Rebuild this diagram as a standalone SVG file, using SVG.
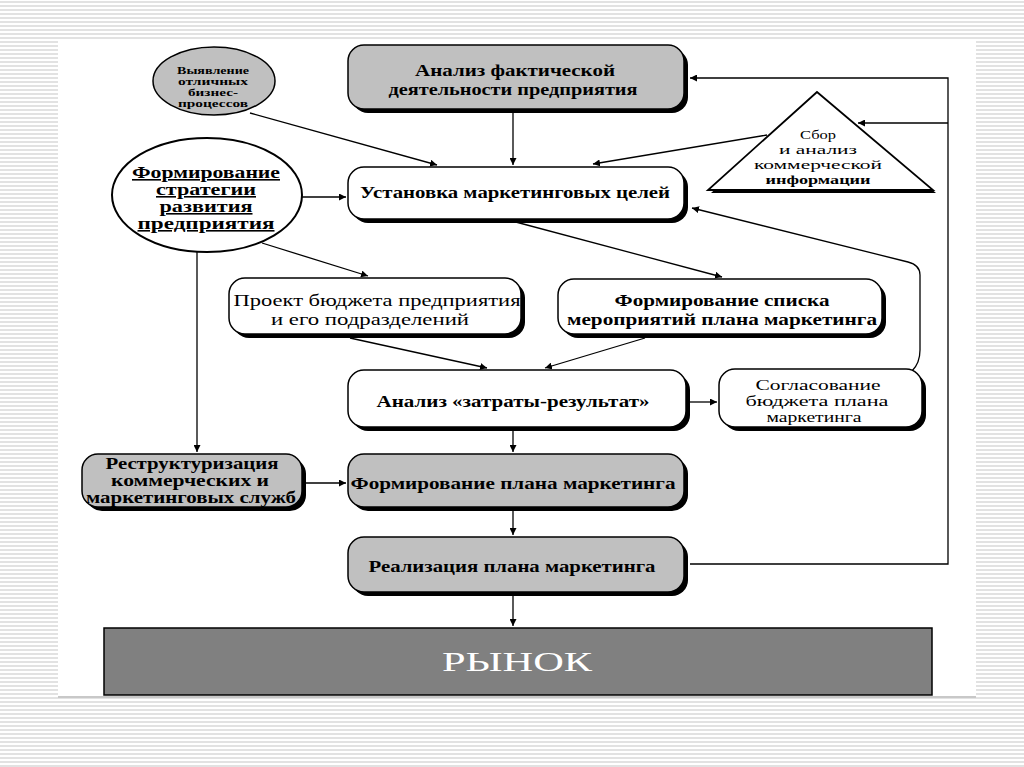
<svg xmlns="http://www.w3.org/2000/svg" width="1024" height="767" viewBox="0 0 1024 767">
<defs>
<pattern id="stripes" x="0" y="0" width="8" height="4" patternUnits="userSpaceOnUse">
<rect x="0" y="0" width="8" height="4" fill="#ffffff"/>
<rect x="0" y="1" width="8" height="2" fill="#e2e2e2"/>
</pattern>
<marker id="arr" viewBox="0 0 10 10" refX="10" refY="5" markerWidth="7" markerHeight="7" markerUnits="userSpaceOnUse" orient="auto">
<path d="M0,0 L10,5 L0,10 z" fill="#000"/>
</marker>
</defs>
<style>
.t{font-family:"Liberation Serif","DejaVu Serif",serif;font-size:16px;fill:#000;text-anchor:middle}
.b{font-weight:bold}
.s{font-size:13.5px}
.sh{fill:#000}
.gr{fill:#c0c0c0;stroke:#000;stroke-width:1.5}
.wh{fill:#fff;stroke:#000;stroke-width:1.5}
.ca{fill:none;stroke:#000;stroke-width:1.3;marker-end:url(#arr)}
</style>
<rect x="0" y="0" width="1024" height="767" fill="url(#stripes)"/>
<rect x="58" y="39" width="918" height="658" fill="#ffffff"/>
<line x1="58" y1="697" x2="976" y2="697" stroke="#c8c8c8" stroke-width="2"/>

<g id="connectors">
<path class="ca" d="M513 113 L513 165"/>
<path class="ca" d="M250 113 L437 165"/>
<path class="ca" d="M767 135 L593 164"/>
<path class="ca" d="M301 197 L346 197"/>
<path class="ca" d="M197 251 L197 452"/>
<path class="ca" d="M262 243 L368 276"/>
<path class="ca" d="M512 221 L722 277"/>
<path class="ca" d="M350 338 L487 368"/>
<path class="ca" d="M645 338 L545 368"/>
<path class="ca" d="M690 402 L717 402"/>
<path class="ca" d="M912 371 Q920 363 920 350 L920 275 Q920 265 908 262 L692 208"/>
<path class="ca" d="M513 431 L513 452"/>
<path class="ca" d="M306 483 L346 483"/>
<path class="ca" d="M513 511 L513 535"/>
<path class="ca" d="M690 564 L948 564 L948 78 L690 78"/>
<path class="ca" d="M948 123 L858 123"/>
<path class="ca" d="M513 596 L513 626"/>
</g>

<g id="n-benchmark">
<ellipse cx="214" cy="81" rx="61" ry="34" fill="#c0c0c0" stroke="#000" stroke-width="1.5"/>
<text class="t b" x="213" y="74" style="font-size:10.5px" textLength="72" lengthAdjust="spacingAndGlyphs">Выявление</text>
<text class="t b" x="213" y="85" style="font-size:10.5px" textLength="70" lengthAdjust="spacingAndGlyphs">отличных</text>
<text class="t b" x="213" y="96" style="font-size:10.5px" textLength="50" lengthAdjust="spacingAndGlyphs">бизнес-</text>
<text class="t b" x="213" y="107" style="font-size:10.5px" textLength="70" lengthAdjust="spacingAndGlyphs">процессов</text>
</g>

<g id="n-strategy">
<ellipse cx="207" cy="195" rx="95" ry="57" fill="#fff" stroke="#000" stroke-width="2"/>
<text class="t b" x="206" y="178" text-decoration="underline" textLength="148" lengthAdjust="spacingAndGlyphs">Формирование</text>
<text class="t b" x="206" y="195" text-decoration="underline" textLength="100" lengthAdjust="spacingAndGlyphs">стратегии</text>
<text class="t b" x="206" y="212" text-decoration="underline" textLength="93" lengthAdjust="spacingAndGlyphs">развития</text>
<text class="t b" x="206" y="229" text-decoration="underline" textLength="137" lengthAdjust="spacingAndGlyphs">предприятия</text>
</g>

<g id="n-analysis">
<rect class="sh" x="352" y="49" width="336" height="64" rx="16"/>
<rect class="gr" x="348" y="45" width="336" height="64" rx="16"/>
<text class="t b" x="515" y="76" textLength="200" lengthAdjust="spacingAndGlyphs">Анализ фактической</text>
<text class="t b" x="513" y="95" textLength="249" lengthAdjust="spacingAndGlyphs">деятельности предприятия</text>
</g>

<g id="n-info">
<polygon points="820,95 711,193 936,193" fill="#000"/>
<polygon points="817,92 708,190 933,190" fill="#fff" stroke="#000" stroke-width="1.8"/>
<text class="t s" x="818" y="139" textLength="36" lengthAdjust="spacingAndGlyphs">Сбор</text>
<text class="t s" x="818" y="154" textLength="78" lengthAdjust="spacingAndGlyphs">и анализ</text>
<text class="t s" x="818" y="169" textLength="128" lengthAdjust="spacingAndGlyphs">коммерческой</text>
<text class="t s b" x="818" y="184" textLength="105" lengthAdjust="spacingAndGlyphs">информации</text>
</g>

<g id="n-goals">
<rect class="sh" x="352" y="171" width="336" height="52" rx="16"/>
<rect class="wh" x="348" y="167" width="336" height="52" rx="16"/>
<text class="t b" x="515" y="198" textLength="310" lengthAdjust="spacingAndGlyphs">Установка маркетинговых целей</text>
</g>

<g id="n-budget">
<rect class="sh" x="233" y="282" width="292" height="56" rx="16"/>
<rect class="wh" x="229" y="278" width="292" height="56" rx="16"/>
<text class="t" x="377" y="306" textLength="287" lengthAdjust="spacingAndGlyphs">Проект бюджета предприятия</text>
<text class="t" x="370" y="325" textLength="198" lengthAdjust="spacingAndGlyphs">и его подразделений</text>
</g>

<g id="n-list">
<rect class="sh" x="562" y="283" width="324" height="55" rx="16"/>
<rect class="wh" x="558" y="279" width="324" height="55" rx="16"/>
<text class="t b" x="722" y="306" textLength="215" lengthAdjust="spacingAndGlyphs">Формирование списка</text>
<text class="t b" x="722" y="325" textLength="310" lengthAdjust="spacingAndGlyphs">мероприятий плана маркетинга</text>
</g>

<g id="n-costs">
<rect class="sh" x="352" y="374" width="338" height="57" rx="16"/>
<rect class="wh" x="348" y="370" width="338" height="57" rx="16"/>
<text class="t b" x="513" y="407" textLength="273" lengthAdjust="spacingAndGlyphs">Анализ «затраты-результат»</text>
</g>

<g id="n-approve">
<rect class="sh" x="723" y="373" width="203" height="58" rx="16"/>
<rect class="wh" x="719" y="369" width="203" height="58" rx="16"/>
<text class="t" x="818" y="390" style="font-size:15px" textLength="125" lengthAdjust="spacingAndGlyphs">Согласование</text>
<text class="t" x="817" y="406" style="font-size:15px" textLength="143" lengthAdjust="spacingAndGlyphs">бюджета плана</text>
<text class="t" x="814" y="422" style="font-size:15px" textLength="95" lengthAdjust="spacingAndGlyphs">маркетинга</text>
</g>

<g id="n-restructure">
<rect class="sh" x="86" y="458" width="220" height="53" rx="16"/>
<rect class="gr" x="82" y="454" width="220" height="53" rx="16"/>
<text class="t b" x="192" y="469" textLength="173" lengthAdjust="spacingAndGlyphs">Реструктуризация</text>
<text class="t b" x="190" y="486" textLength="158" lengthAdjust="spacingAndGlyphs">коммерческих и</text>
<text class="t b" x="191" y="503" textLength="210" lengthAdjust="spacingAndGlyphs">маркетинговых служб</text>
</g>

<g id="n-plan">
<rect class="sh" x="352" y="458" width="336" height="53" rx="16"/>
<rect class="gr" x="348" y="454" width="336" height="53" rx="16"/>
<text class="t b" x="513" y="489" textLength="325" lengthAdjust="spacingAndGlyphs">Формирование плана маркетинга</text>
</g>

<g id="n-implement">
<rect class="sh" x="352" y="541" width="336" height="55" rx="16"/>
<rect class="gr" x="348" y="537" width="336" height="55" rx="16"/>
<text class="t b" x="512" y="572" textLength="287" lengthAdjust="spacingAndGlyphs">Реализация плана маркетинга</text>
</g>

<g id="n-market">
<rect x="104" y="628" width="828" height="67" fill="#808080" stroke="#000" stroke-width="1.5"/>
<text class="t" x="517" y="671" style="font-size:28px;fill:#fff" textLength="150" lengthAdjust="spacingAndGlyphs">РЫНОК</text>
</g>
</svg>
